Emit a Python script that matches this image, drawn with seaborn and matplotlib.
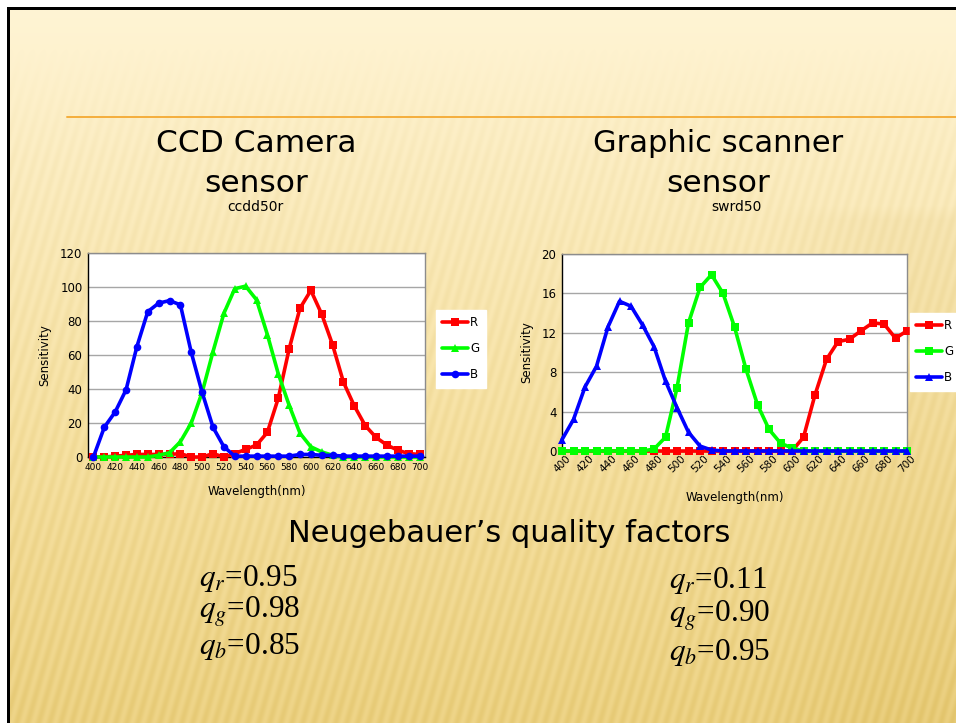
import numpy as np
import pandas as pd
import matplotlib
matplotlib.use("Agg")
import matplotlib.pyplot as plt
from matplotlib.lines import Line2D
import seaborn as sns

sns.set_theme(style="white")
plt.rcParams["font.family"] = ["DejaVu Sans"]
plt.rcParams["mathtext.fontset"] = "stix"
plt.rcParams["text.color"] = "black"
plt.rcParams["axes.labelcolor"] = "black"
plt.rcParams["xtick.color"] = "black"
plt.rcParams["ytick.color"] = "black"

# ---- data -------------------------------------------------------------
wavelength = list(range(400, 701, 10))

ccd_r = [0, 0, 0.5, 1, 1.5, 1.5, 1.5, 1.5, 2, 0, 0, 2, 0, 2, 4.5, 7, 14.5,
         34.5, 63.5, 87.5, 98, 84, 66, 44, 30, 18.5, 11.5, 7, 4, 2, 1.5]
ccd_g = [0, 0, 0, 0, 0, 0, 1, 2.5, 9, 20, 38, 62, 84.5, 99, 100.5, 92.5, 72,
         49, 30.5, 14, 6, 3, 1, 0, 0, 0, 0, 0, 0, 0, 0]
ccd_b = [0, 17.5, 26.5, 39.5, 65, 85.5, 90.5, 92, 89.5, 61.5, 38, 17.5, 6,
         0.5, 0.5, 0.5, 0.5, 0.5, 0.5, 1.5, 1.5, 1, 1, 0.5, 0.5, 0.5, 0.5,
         0.5, 0.5, 0.5, 0.5]

scan_r = [0, 0, 0, 0, 0, 0, 0, 0, 0, 0, 0, 0, 0, 0, 0, 0, 0, 0, 0, 0, 0,
          1.4, 5.7, 9.3, 11.1, 11.35, 12.2, 13.0, 12.9, 11.45, 12.2]
scan_g = [0, 0, 0, 0, 0, 0, 0, 0, 0.2, 1.4, 6.4, 13.0, 16.6, 17.9, 16.0,
          12.6, 8.3, 4.7, 2.2, 0.8, 0.3, 0, 0, 0, 0, 0, 0, 0, 0, 0, 0]
scan_b = [1.15, 3.2, 6.5, 8.6, 12.6, 15.2, 14.7, 12.8, 10.6, 7.1, 4.4, 1.9,
          0.5, 0.1, 0, 0, 0, 0, 0, 0, 0, 0, 0, 0, 0, 0, 0, 0, 0, 0, 0]

channels = ["R", "G", "B"]
channel_colors = {"R": "#FF0000", "G": "#00FF00", "B": "#0000FF"}

ccd_ticks_x = list(range(400, 701, 20))
ccd_ticks_y = [0, 20, 40, 60, 80, 100, 120]
scan_ticks_x = list(range(400, 701, 20))
scan_ticks_y = [0, 4, 8, 12, 16, 20]

left_factors = [("r", "0.95"), ("g", "0.98"), ("b", "0.85")]
right_factors = [("r", "0.11"), ("g", "0.90"), ("b", "0.95")]

ccd_df = pd.DataFrame({"Wavelength": wavelength * 3,
                       "Sensitivity": ccd_r + ccd_g + ccd_b,
                       "Channel": ["R"] * 31 + ["G"] * 31 + ["B"] * 31})
scan_df = pd.DataFrame({"Wavelength": wavelength * 3,
                        "Sensitivity": scan_r + scan_g + scan_b,
                        "Channel": ["R"] * 31 + ["G"] * 31 + ["B"] * 31})

# ---- figure and slide background -------------------------------------
W, H = 956, 723
fig = plt.figure(figsize=(W / 100, H / 100), dpi=100)

bg_ax = fig.add_axes([0, 0, 1, 1], zorder=-10)
yy, xx = np.mgrid[0:H, 0:W].astype(float)
t = np.clip((yy - 9) / (H - 9), 0, 1)
top = np.array([255, 244, 212]) / 255
mid = np.array([247, 226, 164]) / 255
bot = np.array([238, 212, 135]) / 255
w1 = np.clip(t / 0.6, 0, 1)[..., None]
w2 = np.clip((t - 0.6) / 0.4, 0, 1)[..., None]
img = top * (1 - w1) + mid * w1
img = img * (1 - w2) + bot * w2
# soft slanted streaks, fading in below the header band
streak = np.sin(2 * np.pi * (xx + yy / 3.5) / 11.0)
amp = np.clip((yy - 40) / 120, 0, 1) * (0.02 + 0.03 * t)
img = img - (amp * (streak + 1) / 2)[..., None] * np.array([0.6, 0.8, 1.4])
# darker band on the right side below the titles
band = np.clip((xx - 760) / 120, 0, 1) * np.clip((yy - 205) / 15, 0, 1)
img = img - (band * 0.03)[..., None] * np.array([0.5, 0.7, 1.2])
img = np.clip(img, 0, 1)
img[:7, :, :] = 1
img[:, :7, :] = 1
img[7:10, 7:, :] = 0
img[7:, 7:10, :] = 0
bg_ax.imshow(img, extent=[0, W, H, 0], aspect="auto", interpolation="nearest")
bg_ax.plot([67, W], [117, 117], color="#F4AE3C", lw=1.4)
bg_ax.set_xlim(0, W)
bg_ax.set_ylim(H, 0)
bg_ax.axis("off")


def fx(px):
    return px / W


def fy(py):
    return 1 - py / H


# ---- slide text --------------------------------------------------------
fig.text(fx(256), fy(143), "CCD Camera", ha="center", va="center", fontsize=22.5)
fig.text(fx(256), fy(183), "sensor", ha="center", va="center", fontsize=22.5)
fig.text(fx(255), fy(207), "ccdd50r", ha="center", va="center", fontsize=10)
fig.text(fx(718), fy(143), "Graphic scanner", ha="center", va="center", fontsize=22)
fig.text(fx(718), fy(183), "sensor", ha="center", va="center", fontsize=22.5)
fig.text(fx(736), fy(207), "swrd50", ha="center", va="center", fontsize=10)
fig.text(fx(509), fy(533), "Neugebauer\u2019s quality factors", ha="center",
         va="center", fontsize=22)

serif = ["Liberation Serif", "DejaVu Serif"]
for i, (sub, val) in enumerate(left_factors):
    fig.text(fx(199), fy(578 + 34.5 * i), r"$q_{%s}$=%s" % (sub, val),
             ha="left", va="center", fontsize=22.5, family=serif)
for i, (sub, val) in enumerate(right_factors):
    fig.text(fx(669), fy(581 + 36 * i), r"$q_{%s}$=%s" % (sub, val),
             ha="left", va="center", fontsize=22.5, family=serif)


# ---- charts ------------------------------------------------------------
def draw_chart(rect, df, markers, xlim, ylim, xticks, yticks, rotate, legend_xy):
    ax = fig.add_axes(rect)
    ax.set_facecolor("white")
    for ch in channels:
        sub = df[df["Channel"] == ch]
        sns.lineplot(data=sub, x="Wavelength", y="Sensitivity", ax=ax,
                     color=channel_colors[ch], marker=markers[ch],
                     markersize=5.5, markeredgewidth=0, linewidth=2.6,
                     legend=False, clip_on=False, zorder=3)
    ax.set_xlim(*xlim)
    ax.set_ylim(*ylim)
    ax.set_xticks(xticks)
    ax.set_yticks(yticks)
    ax.yaxis.grid(True, color="#A6A6A6", lw=1.0)
    ax.xaxis.grid(False)
    ax.set_axisbelow(True)
    for side in ["left", "bottom"]:
        ax.spines[side].set_color("black")
        ax.spines[side].set_linewidth(1.0)
    for side in ["top", "right"]:
        ax.spines[side].set_color("#8C8C8C")
        ax.spines[side].set_linewidth(1.0)
    ax.tick_params(axis="both", length=0, pad=4)
    ax.tick_params(axis="y", labelsize=8.5)
    if rotate:
        ax.tick_params(axis="x", labelsize=7.5, pad=2)
        for lab in ax.get_xticklabels():
            lab.set_rotation(45)
            lab.set_ha("center")
            lab.set_va("top")
    else:
        ax.tick_params(axis="x", labelsize=6.5)
    ax.set_xlabel("Wavelength(nm)", fontsize=8.5, labelpad=10 if not rotate else 12)
    ax.set_ylabel("Sensitivity", fontsize=8.5, labelpad=6)

    handles = [Line2D([0], [0], color=channel_colors[ch], lw=2.6,
                      marker=markers[ch], markersize=5.5, markeredgewidth=0)
               for ch in channels]
    leg = fig.legend(handles, channels, loc="upper left",
                     bbox_to_anchor=legend_xy, fontsize=8.5, frameon=True,
                     fancybox=False, handlelength=2.2, handletextpad=0.15,
                     labelspacing=1.1, borderpad=0.55, borderaxespad=0)
    leg.get_frame().set_facecolor("white")
    leg.get_frame().set_edgecolor("white")
    leg.get_frame().set_alpha(1)
    return ax


draw_chart([fx(88), fy(457), fx(425) - fx(88), fy(253) - fy(457)], ccd_df,
           {"R": "s", "G": "^", "B": "o"}, (395, 705), (0, 120),
           ccd_ticks_x, ccd_ticks_y, False, (fx(436), fy(310)))
draw_chart([fx(562), fy(451), fx(907) - fx(562), fy(254) - fy(451)], scan_df,
           {"R": "s", "G": "s", "B": "^"}, (400, 700), (0, 20),
           scan_ticks_x, scan_ticks_y, True, (fx(910), fy(313)))

fig.savefig("out.png", dpi=100)
